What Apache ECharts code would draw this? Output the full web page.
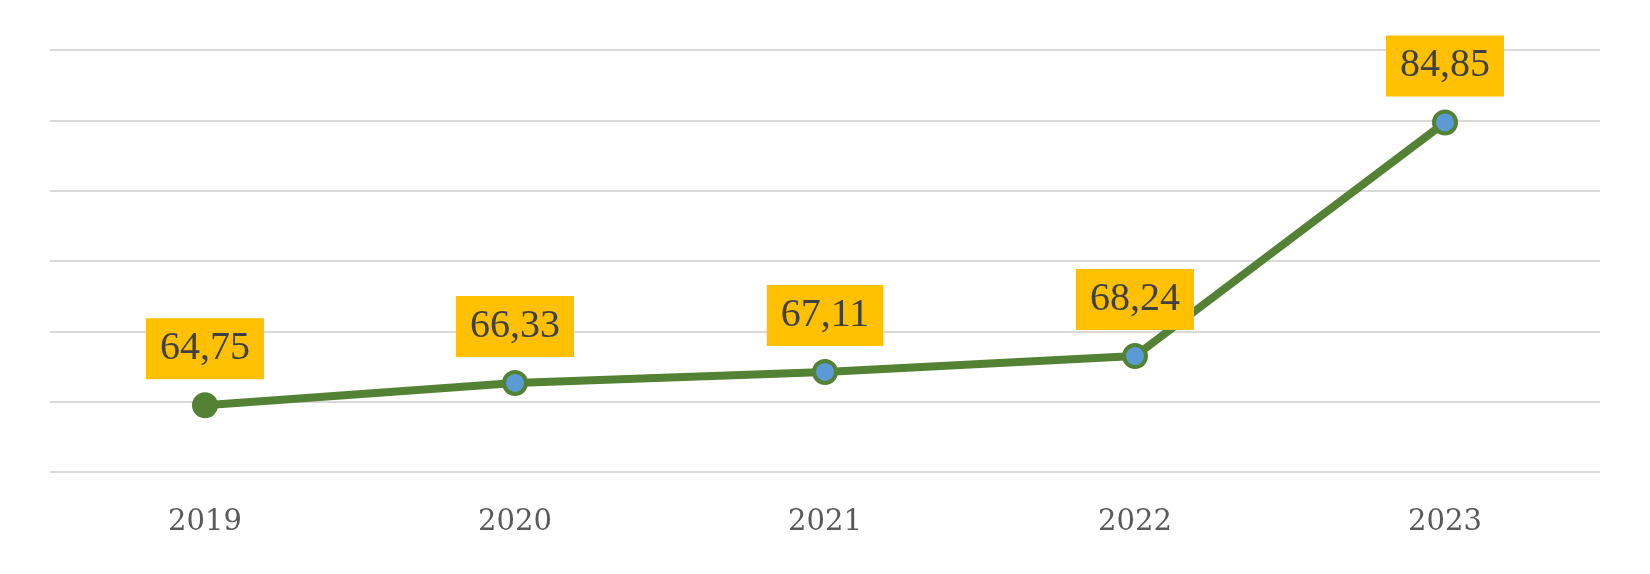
<!DOCTYPE html>
<html>
<head>
<meta charset="utf-8">
<script src="https://cdn.jsdelivr.net/npm/echarts@6/dist/echarts.min.js"></script>
<style>html,body{margin:0;padding:0;background:#fff}#c{width:1650px;height:574px}</style>
</head>
<body>
<div id="c"></div>
<script>
const categories = ['2019', '2020', '2021', '2022', '2023'];
const values = [64.75, 66.33, 67.11, 68.24, 84.85];
const yMin = 60, yMax = 90, yInterval = 5;

const chart = echarts.init(document.getElementById('c'), null, {renderer: 'canvas'});
const data = values.map((v, i) => ({
  value: v,
  itemStyle: i === 0 ? {color: '#548235', borderColor: '#548235'} : {color: '#5B9BD5', borderColor: '#548235'}
}));
chart.setOption({
  animation: false,
  grid: {left: 50, right: 50, top: 50, bottom: 102},
  xAxis: {
    type: 'category',
    data: categories,
    boundaryGap: true,
    axisLine: {show: false},
    axisTick: {show: false},
    axisLabel: {fontFamily: 'DejaVu Serif', fontSize: 29, color: '#595959', margin: 36}
  },
  yAxis: {
    type: 'value',
    min: yMin, max: yMax, interval: yInterval,
    axisLabel: {show: false},
    axisLine: {show: false},
    axisTick: {show: false},
    splitLine: {lineStyle: {color: '#d9d9d9', width: 2}}
  },
  series: [{
    type: 'line',
    data: data,
    symbol: 'circle',
    symbolSize: 22,
    lineStyle: {color: '#548235', width: 8},
    itemStyle: {borderWidth: 4},
    label: {
      show: true,
      position: 'top',
      distance: 13,
      formatter: p => p.value.toFixed(2).replace('.', ','),
      fontFamily: 'Liberation Serif',
      fontSize: 40,
      lineHeight: 41,
      color: '#404040',
      backgroundColor: '#FFC000',
      padding: [10, 14]
    }
  }]
});
</script>
</body>
</html>
